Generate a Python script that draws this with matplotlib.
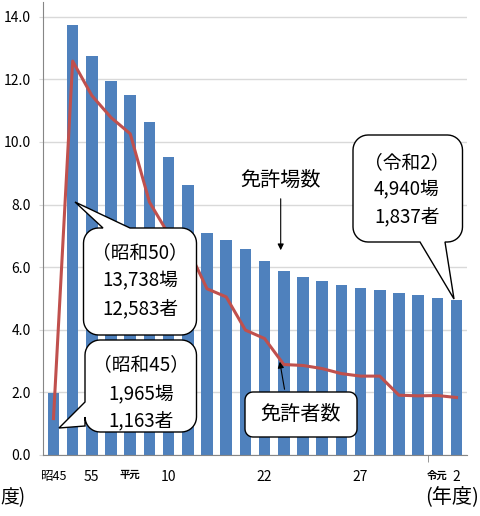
import numpy as np
import matplotlib
matplotlib.use("Agg")
import matplotlib.pyplot as plt
from matplotlib.patches import Polygon, FancyArrowPatch

plt.rcParams['font.family'] = ['Noto Sans CJK JP', 'DejaVu Sans']

# data (thousands)
facilities = [1.965, 13.738, 12.74, 11.95, 11.51, 10.65, 9.53, 8.61, 7.10, 6.86, 6.57,
              6.20, 5.88, 5.70, 5.57, 5.44, 5.35, 5.27, 5.19, 5.10, 5.01, 4.940]
persons = [1.163, 12.583, 11.48, 10.78, 10.26, 8.08, 7.05, 6.60, 5.31, 5.05, 3.99,
           3.72, 2.89, 2.86, 2.76, 2.60, 2.52, 2.52, 1.91, 1.89, 1.90, 1.837]
xlabels = ['昭45', '', '55', '', '平元', '', '10', '', '', '', '', '22',
           '', '', '', '', '27', '', '', '', '令元', '2']
yticks = [0, 2, 4, 6, 8, 10, 12, 14]

W, H = 480, 516
fig = plt.figure(figsize=(W / 100, H / 100), dpi=100)
ax = fig.add_axes([43.3 / W, 1 - 455 / H, (466.7 - 43.3) / W, (455 - 1.7) / H])

x = np.arange(len(facilities))
ax.bar(x, facilities, width=0.6, color='#4F81BD', zorder=2)
ax.plot(x, persons, color='#C0504D', lw=2.2, zorder=3)

narrow = ['Liberation Sans Narrow', 'Noto Sans CJK JP']
ax.set_xlim(-0.53, 21.53)
ax.set_ylim(0, 14.48)
ax.set_yticks(yticks)
ax.set_yticklabels([f'{v:.1f}' for v in yticks], family=narrow, fontsize=10)
ax.yaxis.grid(True, color='#D9D9D9', lw=1, zorder=0)
ax.tick_params(axis='y', length=3, color='#D9D9D9', pad=6)

ax.set_xticks(x)
ax.set_xticklabels(xlabels, fontsize=10, family=narrow)
for t in ax.get_xticklabels():
    if t.get_text() in ('平元', '令元'):
        t.set_fontweight('bold')
        t.set_fontsize(7.5)
        t.set_family('Noto Sans CJK JP')
    if t.get_text() == '昭45':
        t.set_fontsize(9)
ax.tick_params(axis='x', length=0, pad=11)
ax.set_xticks([19.5], minor=True)
ax.tick_params(axis='x', which='minor', length=5, color='#868686')

for s in ['top', 'right']:
    ax.spines[s].set_visible(False)
for s in ['left', 'bottom']:
    ax.spines[s].set_color('#868686')


def fp(px, py):
    return (px / W, 1 - py / H)


def callout(x0, y0, x1, y1, r, tail=None, lw=1.0):
    def arc(cx, cy, a0, a1):
        t = np.radians(np.linspace(a0, a1, 10))
        return [(cx + r * np.cos(a), cy + r * np.sin(a)) for a in t]
    pts = [(x0 + r, y0)]
    if tail and tail[0] == 'top':
        _, a, b, tip = tail
        pts += [(a, y0), tip, (b, y0)]
    pts += [(x1 - r, y0)]
    pts += arc(x1 - r, y0 + r, 270, 360)
    pts += [(x1, y1 - r)]
    pts += arc(x1 - r, y1 - r, 0, 90)
    if tail and tail[0] == 'bottom':
        _, a, b, tip = tail
        pts += [(b, y1), tip, (a, y1)]
    pts += [(x0 + r, y1)]
    pts += arc(x0 + r, y1 - r, 90, 180)
    if tail and tail[0] == 'left':
        _, a, b, tip = tail
        pts += [(x0, b), tip, (x0, a)]
    pts += [(x0, y0 + r)]
    pts += arc(x0 + r, y0 + r, 180, 270)
    poly = Polygon([fp(*p) for p in pts], closed=True, transform=fig.transFigure,
                   fc='white', ec='black', lw=lw, zorder=5)
    fig.add_artist(poly)


def lines(cx, ys, texts, size=13.5):
    for yy, tt in zip(ys, texts):
        fig.text(*fp(cx, yy), tt, ha='center', va='center', fontsize=size, zorder=6)


# (昭和50)
callout(83.5, 228, 196.5, 335, 15, ('top', 103, 130, (75, 202)))
lines(140, [253, 281, 309], ['（昭和50）', '13,738場', '12,583者'])

# (昭和45)
callout(85, 340, 196.5, 432, 15, ('left', 402, 426, (59, 428)))
lines(141, [365, 395, 421], ['（昭和45）', '1,965場', '1,163者'])

# (令和2)
callout(353, 135, 462.5, 242, 15, ('bottom', 420, 445, (454, 299)))
lines(407, [163, 190, 217], ['（令和2）', '4,940場', '1,837者'])

# 免許場数
fig.text(*fp(281, 180), '免許場数', ha='center', va='center', fontsize=14.5, zorder=6)
fig.add_artist(FancyArrowPatch(fp(280.7, 196), fp(280.7, 253), transform=fig.transFigure,
                               arrowstyle='-|>', mutation_scale=9, lw=0.8, color='black', zorder=6))

# 免許者数
callout(245, 392, 357, 437, 8)
fig.text(*fp(301, 414), '免許者数', ha='center', va='center', fontsize=14.5, zorder=6)
fig.add_artist(FancyArrowPatch(fp(285, 392), fp(279.3, 359), transform=fig.transFigure,
                               arrowstyle='-|>', mutation_scale=9, lw=0.8, color='black', zorder=6))

# (年度)
fig.text(*fp(0, 498), '度)', ha='left', va='center', fontsize=13.5)
fig.text(*fp(479, 497), '(年度)', ha='right', va='center', fontsize=14.5)

fig.savefig('out.png', dpi=100)
